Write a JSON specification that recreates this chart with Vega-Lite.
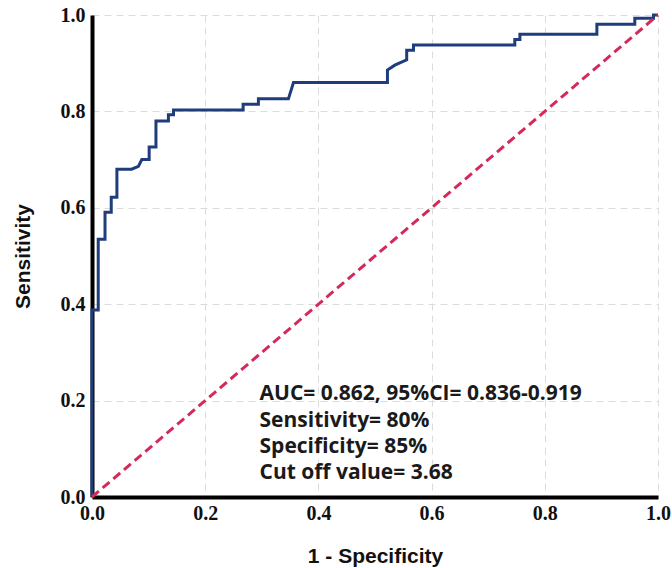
{
  "$schema": "https://vega.github.io/schema/vega-lite/v6.json",
  "width": 566,
  "height": 482,
  "autosize": "none",
  "padding": {"left": 92, "top": 15, "right": 14, "bottom": 71},
  "background": "white",
  "config": {"view": {"stroke": null}},
  "layer": [
    {
      "data": {"values": [
        {"o": 0, "fpr": 0, "tpr": 0},
        {"o": 1, "fpr": 0, "tpr": 0.388},
        {"o": 2, "fpr": 0.011, "tpr": 0.388},
        {"o": 3, "fpr": 0.011, "tpr": 0.535},
        {"o": 4, "fpr": 0.023, "tpr": 0.535},
        {"o": 5, "fpr": 0.023, "tpr": 0.591},
        {"o": 6, "fpr": 0.034, "tpr": 0.591},
        {"o": 7, "fpr": 0.034, "tpr": 0.622},
        {"o": 8, "fpr": 0.044, "tpr": 0.622},
        {"o": 9, "fpr": 0.044, "tpr": 0.68},
        {"o": 10, "fpr": 0.070, "tpr": 0.68},
        {"o": 11, "fpr": 0.082, "tpr": 0.686},
        {"o": 12, "fpr": 0.088, "tpr": 0.70},
        {"o": 13, "fpr": 0.101, "tpr": 0.70},
        {"o": 14, "fpr": 0.101, "tpr": 0.726},
        {"o": 15, "fpr": 0.113, "tpr": 0.726},
        {"o": 16, "fpr": 0.113, "tpr": 0.78},
        {"o": 17, "fpr": 0.135, "tpr": 0.78},
        {"o": 18, "fpr": 0.135, "tpr": 0.793},
        {"o": 19, "fpr": 0.144, "tpr": 0.793},
        {"o": 20, "fpr": 0.144, "tpr": 0.803},
        {"o": 21, "fpr": 0.267, "tpr": 0.803},
        {"o": 22, "fpr": 0.267, "tpr": 0.815},
        {"o": 23, "fpr": 0.294, "tpr": 0.815},
        {"o": 24, "fpr": 0.294, "tpr": 0.826},
        {"o": 25, "fpr": 0.347, "tpr": 0.826},
        {"o": 26, "fpr": 0.356, "tpr": 0.86},
        {"o": 27, "fpr": 0.522, "tpr": 0.86},
        {"o": 28, "fpr": 0.522, "tpr": 0.886},
        {"o": 29, "fpr": 0.535, "tpr": 0.896},
        {"o": 30, "fpr": 0.556, "tpr": 0.907},
        {"o": 31, "fpr": 0.556, "tpr": 0.927},
        {"o": 32, "fpr": 0.568, "tpr": 0.927},
        {"o": 33, "fpr": 0.568, "tpr": 0.938},
        {"o": 34, "fpr": 0.747, "tpr": 0.938},
        {"o": 35, "fpr": 0.747, "tpr": 0.949},
        {"o": 36, "fpr": 0.756, "tpr": 0.949},
        {"o": 37, "fpr": 0.756, "tpr": 0.96},
        {"o": 38, "fpr": 0.892, "tpr": 0.96},
        {"o": 39, "fpr": 0.892, "tpr": 0.981},
        {"o": 40, "fpr": 0.959, "tpr": 0.981},
        {"o": 41, "fpr": 0.959, "tpr": 0.993},
        {"o": 42, "fpr": 0.992, "tpr": 0.993},
        {"o": 43, "fpr": 0.992, "tpr": 1},
        {"o": 44, "fpr": 1, "tpr": 1}
      ]},
      "mark": {"type": "line", "color": "#1f3c7c", "strokeWidth": 3, "clip": false},
      "encoding": {
        "x": {
          "field": "fpr", "type": "quantitative",
          "scale": {"domain": [0, 1], "nice": false},
          "axis": {
            "title": "1 - Specificity",
            "values": [0, 0.2, 0.4, 0.6, 0.8, 1.0],
            "format": ".1f",
            "domainColor": "black", "domainWidth": 4,
            "ticks": false,
            "labelFont": "Liberation Serif", "labelFontWeight": "bold", "labelFontSize": 20, "labelColor": "#111",
            "labelPadding": 6,
            "labelFlush": false,
            "grid": true, "gridColor": "#dcdcdc", "gridDash": [7, 5], "gridWidth": 1,
            "titleFont": "Liberation Sans", "titleFontWeight": "bold", "titleFontSize": 21, "titleColor": "#111",
            "titlePadding": 22
          }
        },
        "y": {
          "field": "tpr", "type": "quantitative",
          "scale": {"domain": [0, 1], "nice": false},
          "axis": {
            "title": "Sensitivity",
            "values": [0, 0.2, 0.4, 0.6, 0.8, 1.0],
            "format": ".1f",
            "domainColor": "black", "domainWidth": 4,
            "ticks": false,
            "labelFont": "Liberation Serif", "labelFontWeight": "bold", "labelFontSize": 20, "labelColor": "#111",
            "labelPadding": 7,
            "labelFlush": false,
            "grid": true, "gridColor": "#dcdcdc", "gridDash": [7, 5], "gridWidth": 1,
            "titleFont": "Liberation Sans", "titleFontWeight": "bold", "titleFontSize": 21, "titleColor": "#111",
            "titlePadding": 27
          }
        },
        "order": {"field": "o", "type": "quantitative"}
      }
    },
    {
      "data": {"values": [
        {"fpr": 0, "tpr": 0},
        {"fpr": 1, "tpr": 1}
      ]},
      "mark": {"type": "line", "color": "#d42a5a", "strokeWidth": 3, "strokeDash": [9, 5]},
      "encoding": {
        "x": {"field": "fpr", "type": "quantitative"},
        "y": {"field": "tpr", "type": "quantitative"}
      }
    },
    {
      "data": {"values": [
        {"fpr": 0.296, "tpr": 0.214, "label": "AUC= 0.862, 95%CI= 0.836-0.919"},
        {"fpr": 0.296, "tpr": 0.158, "label": "Sensitivity= 80%"},
        {"fpr": 0.296, "tpr": 0.104, "label": "Specificity= 85%"},
        {"fpr": 0.296, "tpr": 0.049, "label": "Cut off value= 3.68"}
      ]},
      "mark": {"type": "text", "align": "left", "baseline": "middle", "font": "Open Sans", "fontWeight": "bold", "fontSize": 21, "color": "#1a1a1a"},
      "encoding": {
        "x": {"field": "fpr", "type": "quantitative"},
        "y": {"field": "tpr", "type": "quantitative"},
        "text": {"field": "label"}
      }
    }
  ]
}
